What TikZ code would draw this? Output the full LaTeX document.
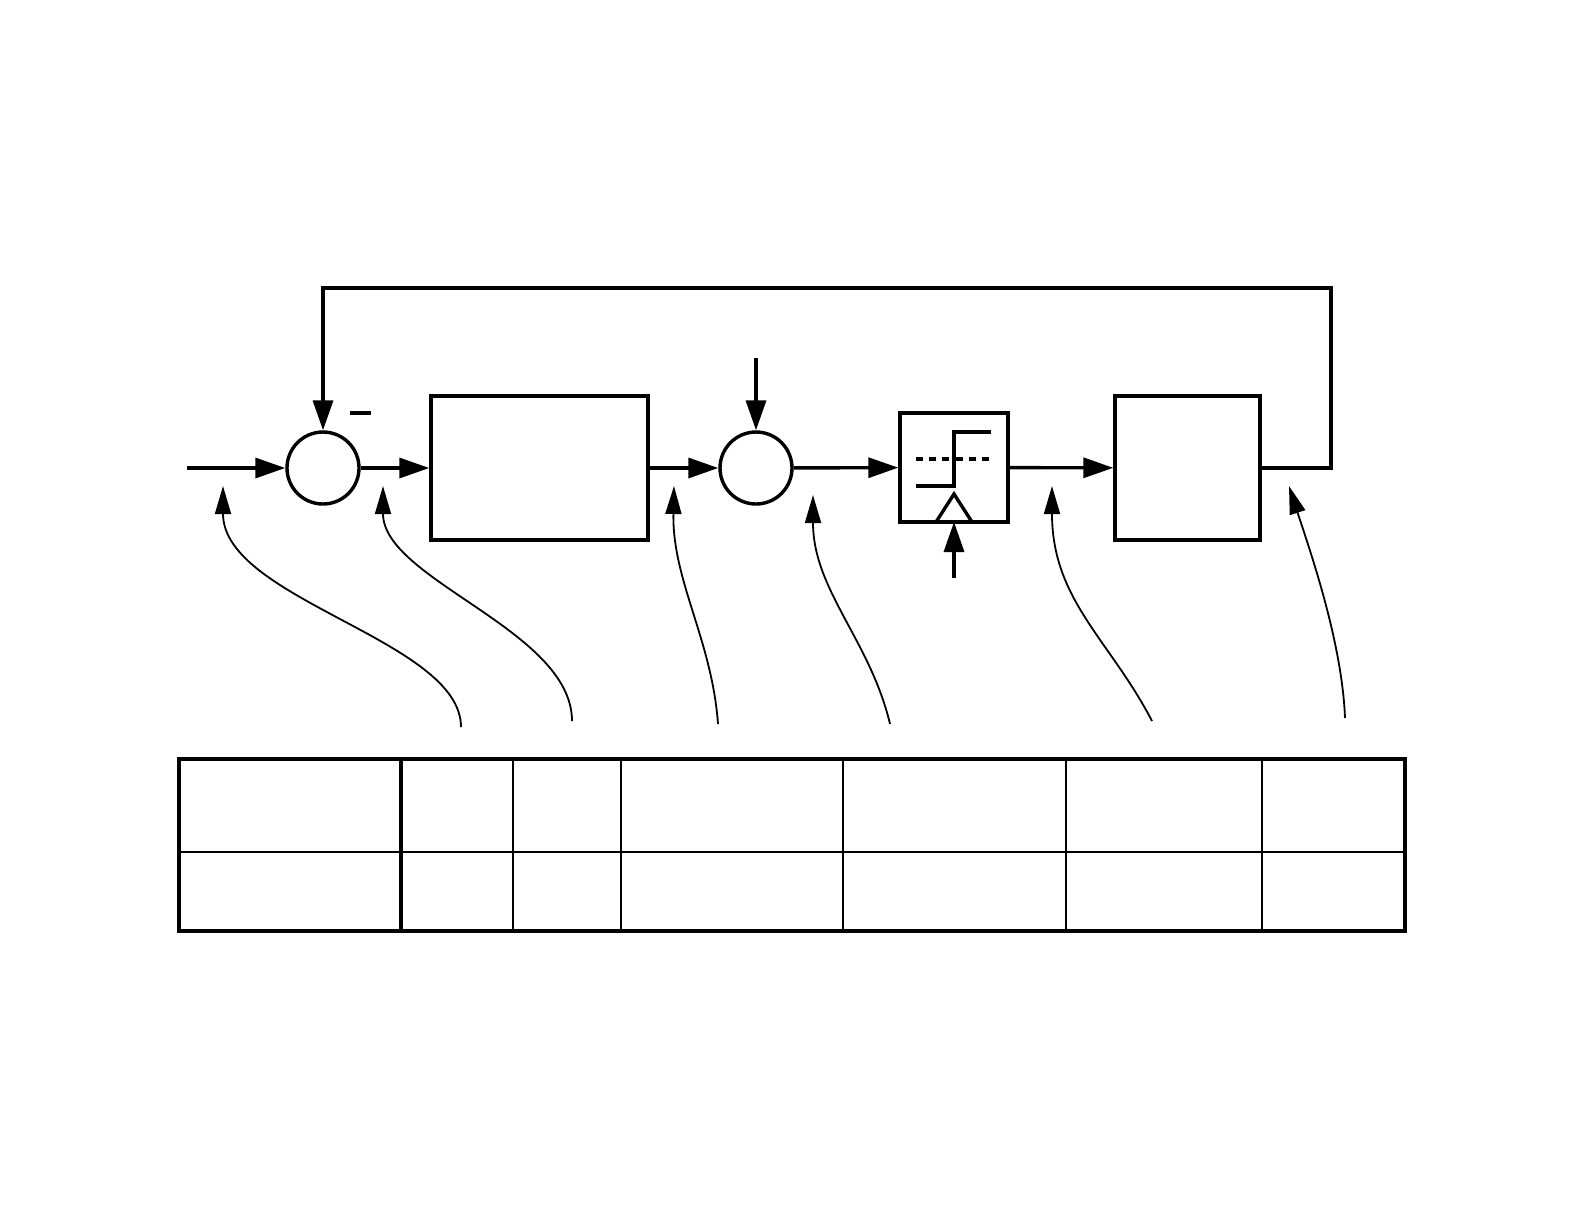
\documentclass[tikz,border=0pt]{standalone}
\usetikzlibrary{arrows.meta}
\begin{document}
\begin{tikzpicture}[x=0.5pt,y=-0.5pt,
  sig/.style={line width=1.7pt,-{Triangle[length=15pt,width=10pt]}},
  wire/.style={line width=1.7pt},
  ptr/.style={line width=0.9pt,-{Triangle[length=14pt,width=8pt]}},
  sumnode/.style={circle,draw,line width=1.7pt,minimum size=36pt,inner sep=0pt},
  blk/.style={rectangle,draw,line width=1.7pt,inner sep=0pt},
  thickrule/.style={line width=2pt},
  thinrule/.style={line width=0.8pt}]
\useasboundingbox (0,0) rectangle (1584,1222);
% blocks
\node[sumnode] (s1) at (323,468) {};
\node[blk,minimum width=108.5pt,minimum height=72pt] (b1) at (539.5,468) {};
\node[sumnode] (s2) at (756,468) {};
\node[blk,minimum width=54pt,minimum height=54.5pt] (q) at (954,467.5) {};
\node[blk,minimum width=72.5pt,minimum height=72pt] (b3) at (1187.5,468) {};
\coordinate (in) at (187,468);
\coordinate (dist) at (756,358);
\coordinate (clk) at (954,578);
\coordinate (fbR) at (1331,468);
% quantizer symbol
\draw[wire] (916,486) -- (954,486) -- (954,432) -- (991,432);
\draw[line width=2.2pt,dash pattern=on 3.5pt off 3.1pt] (916,459) -- (991,459);
\draw[wire] (936,522) -- (954,494) -- (972,522);
\coordinate (qb) at (954,522);
% signal arrows
\draw[sig] (in) -- (s1);
\draw[sig] (s1) -- (b1);
\draw[sig] (b1) -- (s2);
\draw[sig] (s2) -- (q);
\draw[sig] (q) -- (b3);
\draw[sig] (dist) -- (s2);
\draw[sig] (clk) -- (qb);
\draw[sig] (b3.east) -- (fbR) -- (1331,288) -- (323,288) -- (s1);
% minus sign
\draw[wire] (350,413) -- (371,413);
% pointer curves
\coordinate (t1) at (223,486); \coordinate (f1) at (461,727);
\coordinate (t2) at (383,486); \coordinate (f2) at (572,721);
\coordinate (t3) at (674,486); \coordinate (f3) at (718,724);
\coordinate (t4) at (813,495); \coordinate (f4) at (890,724);
\coordinate (t5) at (1052,486); \coordinate (f5) at (1152,721);
\coordinate (t6) at (1289,486); \coordinate (f6) at (1345,718);
\draw[ptr] (f1) .. controls (461,640) and (223,600) .. (t1);
\draw[ptr] (f2) .. controls (572,630) and (383,580) .. (t2);
\draw[ptr] (f3) .. controls (712,640) and (672,580) .. (t3);
\draw[ptr] (f4) .. controls (870,640) and (813,590) .. (t4);
\draw[ptr] (f5) .. controls (1110,640) and (1052,600) .. (t5);
\draw[ptr] (f6) .. controls (1342,640) and (1308,545) .. (t6);
% table
\draw[thinrule] (179,852) -- (1405,852);
\foreach \x in {513,621,843,1066,1262} \draw[thinrule] (\x,759) -- (\x,931);
\draw[thickrule] (401,759) -- (401,931);
\draw[thickrule] (179,759) rectangle (1405,931);
\end{tikzpicture}
\end{document}
